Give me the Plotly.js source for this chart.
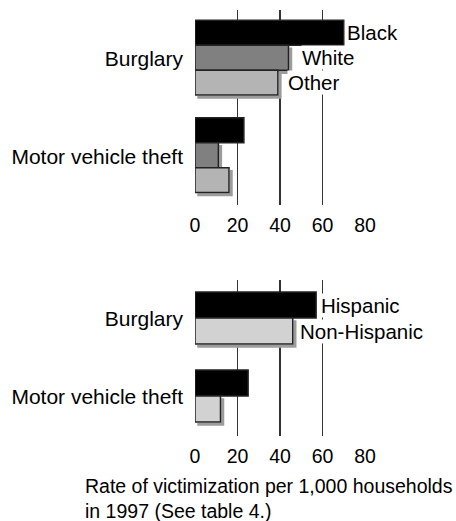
<!DOCTYPE html>
<html><head><meta charset="utf-8">
<script src="https://cdn.plot.ly/plotly-3.0.1.min.js"></script>
<style>
html,body{margin:0;padding:0;background:#fff;}
#chart{width:456px;height:521px;}
.barlayer .trace:not(:first-child) .point path{filter:url(#barshadow);}
</style></head><body>
<svg width="0" height="0" style="position:absolute"><defs><filter id="barshadow" x="-20%" y="-20%" width="150%" height="160%"><feDropShadow dx="3" dy="3" stdDeviation="0" flood-color="#9c9c9c" flood-opacity="1"/></filter></defs></svg>
<div id="chart"></div>
<script>
// ---- data ----
const crimeCategories = ['Burglary', 'Motor vehicle theft'];
const raceSeries = ['Black', 'White', 'Other'];
const blackRates = [70, 23];
const whiteRates = [44, 11];
const otherRates = [39, 16];
const ethnicitySeries = ['Hispanic', 'Non-Hispanic'];
const hispanicRates = [57, 25];
const nonHispanicRates = [46, 12];
const xTickValues = [0, 20, 40, 60, 80];
const xTickLabels = ['0', '20', '40', '60', '80'];
const axisTitleText = 'Rate of victimization per 1,000 households<br>in 1997 (See table 4.)';

// ---- styles ----
const FONT = 'Liberation Sans, Arial, Helvetica, sans-serif';
const W = 456, H = 521;
const topStyle = {
  colors: ['#000000', '#808080', '#b4b4b4'],
  width: 0.256,
  offsets: [-0.395, -0.139, 0.117],
  labelShift: [2, 12, 9]
};
const botStyle = {
  colors: ['#000000', '#d2d2d2'],
  width: 0.333,
  offsets: [-0.345, -0.012],
  labelShift: [4, 6]
};

const topValues = [blackRates, whiteRates, otherRates];
const botValues = [hispanicRates, nonHispanicRates];

const traces = [];
const annotations = [];

function addGroup(names, values, style, xa, ya, yref) {
  names.forEach((name, i) => {
    traces.push({
      type: 'bar', orientation: 'h', name: name,
      x: values[i], y: crimeCategories,
      xaxis: xa, yaxis: ya,
      width: style.width, offset: style.offsets[i],
      marker: { color: style.colors[i], line: { color: '#222222', width: 1.5 } },
      hoverinfo: 'skip', showlegend: false
    });
    annotations.push({
      xref: xa, yref: yref,
      x: values[i][0],
      y: 0 + style.offsets[i] + style.width / 2,
      text: name, showarrow: false,
      xanchor: 'left', yanchor: 'middle',
      xshift: style.labelShift[i],
      bgcolor: '#ffffff', borderpad: 0,
      font: { family: FONT, size: 20.5, color: '#000' }
    });
  });
}
addGroup(raceSeries, topValues, topStyle, 'x', 'y', 'y');
addGroup(ethnicitySeries, botValues, botStyle, 'x2', 'y2', 'y2');

annotations.push({
  xref: 'paper', yref: 'paper',
  x: 83 / W, y: 1 - 473 / H,
  xanchor: 'left', yanchor: 'top', align: 'left',
  text: axisTitleText, showarrow: false,
  font: { family: FONT, size: 19.5, color: '#000' }
});

const xDomain = [195 / W, 365 / W];
function xAxis(anchor) {
  return {
    domain: xDomain, anchor: anchor, range: [0, 80],
    tickmode: 'array', tickvals: xTickValues, ticktext: xTickLabels,
    showgrid: true, gridcolor: '#333333', gridwidth: 1.5,
    zeroline: false, showline: false, ticks: '',
    ticklabelstandoff: 6,
    tickfont: { family: FONT, size: 19.5, color: '#000' },
    fixedrange: true
  };
}
function yAxis(anchor, dom) {
  return {
    domain: dom, anchor: anchor, type: 'category',
    categoryorder: 'array', categoryarray: crimeCategories,
    range: [1.5, -0.5],
    showgrid: false, zeroline: false, showline: false, ticks: '',
    ticklabelstandoff: 11,
    tickfont: { family: FONT, size: 21, color: '#000' },
    fixedrange: true
  };
}

const layout = {
  width: W, height: H,
  margin: { l: 0, r: 0, t: 0, b: 0 },
  paper_bgcolor: '#ffffff', plot_bgcolor: 'rgba(0,0,0,0)',
  barmode: 'overlay',
  showlegend: false,
  font: { family: FONT, size: 19.5, color: '#000' },
  xaxis: xAxis('y'),
  yaxis: yAxis('x', [1 - 205 / H, 1 - 10 / H]),
  xaxis2: xAxis('y2'),
  yaxis2: yAxis('x2', [1 - 436 / H, 1 - 280 / H]),
  annotations: annotations
};

Plotly.newPlot('chart', traces, layout, { displayModeBar: false, staticPlot: true });
</script>
</body></html>
